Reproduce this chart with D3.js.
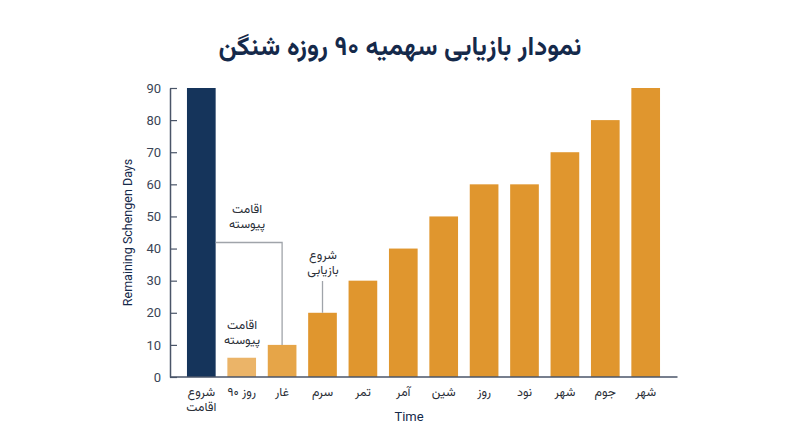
<!DOCTYPE html>
<html>
<head>
<meta charset="utf-8">
<script src="https://cdn.jsdelivr.net/npm/d3@7"></script>
<style>
  body { margin: 0; background: #fff; }
  svg { display: block; }
  .fa { font-family: "Vazirmatn", "Noto Sans Arabic", "DejaVu Sans", sans-serif; }
  .en { font-family: Roboto, "Noto Sans", sans-serif; }
</style>
</head>
<body>
<div id="chart"></div>
<script>
// chart data
var categories = ['شروع|اقامت', 'روز ۹۰', 'غار', 'سرم', 'تمر', 'آمر', 'شین', 'روز', 'نود', 'شهر', 'جوم', 'شهر'];
var days = [90, 6, 10, 20, 30, 40, 50, 60, 60, 70, 80, 90];
var barColors = ['#15345b', '#ebb468', '#e6a548', '#e0962e', '#e0962e', '#e0962e', '#e0962e', '#e0962e', '#e0962e', '#e0962e', '#e0962e', '#e0962e'];
var yTicks = [0, 10, 20, 30, 40, 50, 60, 70, 80, 90];

var title = 'نمودار بازیابی سهمیه ۹۰ روزه شنگن';
var yTitle = 'Remaining Schengen Days';
var xTitle = 'Time';

var W = 800, H = 447;
var margin = {top: 88, right: 123, bottom: 70, left: 170};

var svg = d3.select('#chart').append('svg').attr('width', W).attr('height', H);

var x = d3.scaleBand()
  .domain(d3.range(categories.length))
  .range([margin.left, W - margin.right])
  .paddingInner(0.29)
  .paddingOuter(0.42);

var y = d3.scaleLinear()
  .domain([0, 90])
  .range([H - margin.bottom, margin.top]);

var axisColor = '#4a5568';

// title
svg.append('text')
  .attr('class', 'fa')
  .attr('x', W / 2)
  .attr('y', 55)
  .attr('text-anchor', 'middle')
  .attr('direction', 'rtl')
  .attr('font-size', 26)
  .attr('font-weight', 'bold')
  .attr('fill', '#15294a')
  .text(title);

// bars
svg.append('g')
  .selectAll('rect')
  .data(days)
  .enter().append('rect')
  .attr('x', function(d, i) { return x(i); })
  .attr('y', function(d) { return y(d); })
  .attr('width', x.bandwidth())
  .attr('height', function(d) { return y(0) - y(d); })
  .attr('fill', function(d, i) { return barColors[i]; });

// y axis
var yAxis = svg.append('g')
  .attr('class', 'en')
  .attr('transform', 'translate(' + margin.left + ',0)')
  .call(d3.axisLeft(y).tickValues(yTicks).tickSizeInner(-7).tickSizeOuter(0).tickPadding(9));
yAxis.select('.domain').attr('stroke', axisColor).attr('stroke-width', 1.5);
yAxis.selectAll('.tick line').attr('stroke', axisColor).attr('stroke-width', 1.2);
yAxis.selectAll('.tick text').attr('fill', '#3a4556').attr('font-size', 13);

// x axis
var xAxis = svg.append('g')
  .attr('transform', 'translate(0,' + y(0) + ')')
  .call(d3.axisBottom(x).tickSize(0).tickFormat(''));
xAxis.select('.domain').attr('stroke', axisColor).attr('stroke-width', 1.5)
  .attr('d', 'M' + margin.left + ',0H' + (W - margin.right + 0.5));

xAxis.selectAll('.tick').each(function(d) {
  var lines = categories[d].split('|');
  var t = d3.select(this).append('text')
    .attr('class', 'fa')
    .attr('fill', '#2b2f38')
    .attr('font-size', 12.5)
    .attr('text-anchor', 'middle')
    .attr('direction', 'rtl')
    .attr('y', 19);
  lines.forEach(function(s, k) {
    t.append('tspan').attr('x', 0).attr('dy', k ? 15 : 0).text(s);
  });
});

// axis titles
svg.append('text')
  .attr('class', 'en')
  .attr('transform', 'translate(132,' + ((y(0) + y(90)) / 2) + ') rotate(-90)')
  .attr('text-anchor', 'middle')
  .attr('font-size', 12.5)
  .attr('fill', '#15294a')
  .text(yTitle);

svg.append('text')
  .attr('class', 'en')
  .attr('x', 409)
  .attr('y', 421)
  .attr('text-anchor', 'middle')
  .attr('font-size', 13)
  .attr('fill', '#15294a')
  .text(xTitle);

// annotations
var noteColor = '#a0a4aa';
var cx = function(i) { return x(i) + x.bandwidth() / 2; };
var ann = svg.append('g');

// connector from first bar to third bar
var linkY = y(45) + 10;
ann.append('path')
  .attr('d', 'M' + (x(0) + x.bandwidth()) + ',' + linkY + 'H' + cx(2) + 'V' + y(days[2]))
  .attr('fill', 'none')
  .attr('stroke', noteColor)
  .attr('stroke-width', 1.3);

ann.append('line')
  .attr('x1', cx(3)).attr('x2', cx(3))
  .attr('y1', 281).attr('y2', y(days[3]))
  .attr('stroke', noteColor)
  .attr('stroke-width', 1.3);

var notes = [
  {lines: ['اقامت', 'پیوسته'], x: 247, y: 213},
  {lines: ['اقامت', 'پیوسته'], x: 242, y: 329},
  {lines: ['شروع', 'بازیابی'], x: 323, y: 259}
];
notes.forEach(function(n) {
  var t = ann.append('text')
    .attr('class', 'fa')
    .attr('x', n.x).attr('y', n.y)
    .attr('text-anchor', 'middle')
    .attr('direction', 'rtl')
    .attr('font-size', 12.5)
    .attr('fill', '#2b2f38');
  n.lines.forEach(function(s, k) {
    t.append('tspan').attr('x', n.x).attr('dy', k ? 15 : 0).text(s);
  });
});
</script>
</body>
</html>
